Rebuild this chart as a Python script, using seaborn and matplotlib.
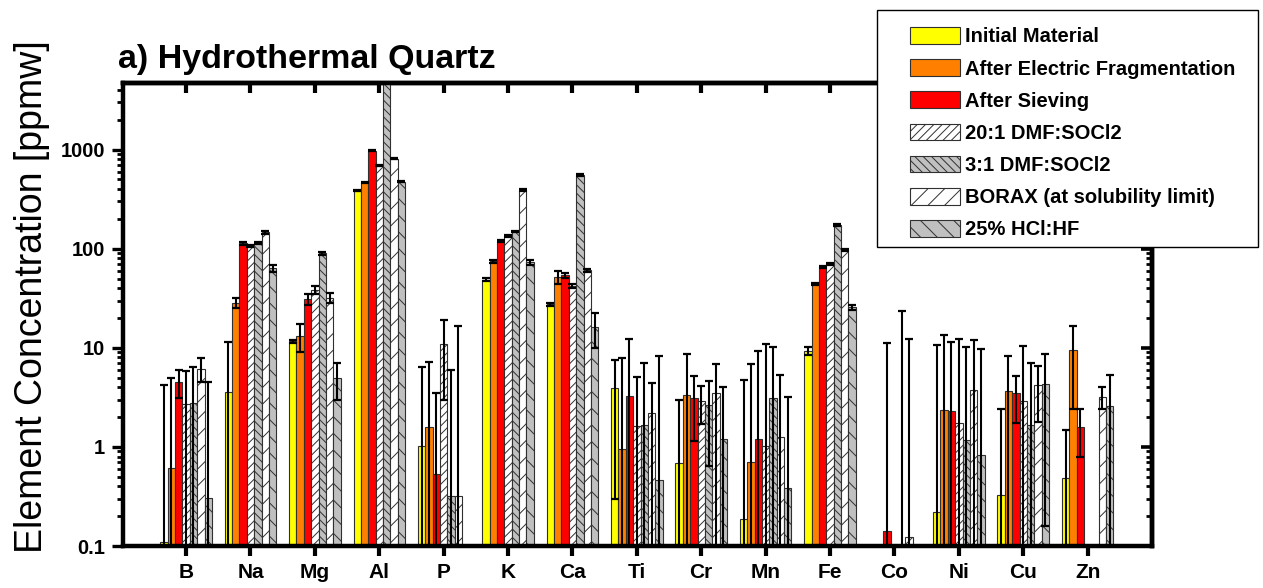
import numpy as np
import pandas as pd
import matplotlib
matplotlib.use("Agg")
import matplotlib.pyplot as plt
import seaborn as sns
from matplotlib.patches import Patch, Rectangle
from matplotlib.ticker import FixedLocator, FuncFormatter, LogLocator, NullFormatter

sns.set_theme(style="ticks")
plt.rcParams["font.family"] = ["Liberation Sans", "DejaVu Sans"]
plt.rcParams["font.weight"] = "bold"
plt.rcParams["hatch.linewidth"] = 0.7
plt.rcParams["axes.edgecolor"] = "black"
plt.rcParams["text.color"] = "black"
plt.rcParams["axes.labelcolor"] = "black"
plt.rcParams["xtick.color"] = "black"
plt.rcParams["ytick.color"] = "black"
plt.rcParams["xtick.labelcolor"] = "black"
plt.rcParams["ytick.labelcolor"] = "black"

nan = np.nan

elements = ["B", "Na", "Mg", "Al", "P", "K", "Ca", "Ti", "Cr", "Mn", "Fe", "Co", "Ni", "Cu", "Zn"]

series_names = ["Initial Material", "After Electric Fragmentation", "After Sieving",
                "20:1 DMF:SOCl2", "3:1 DMF:SOCl2", "BORAX (at solubility limit)", "25% HCl:HF"]

initial = [0.11, 3.6, 11.6, 386, 1.03, 48.7, 27.4, 3.9, 0.68, 0.187, 9.3, nan, 0.222, 0.327, 0.49]
initial_err = [4.1, 7.8, 0.5, 4, 5.4, 2, 1, 3.6, 2.3, 4.5, 0.8, nan, 10.4, 2.1, 0.98]

after_ef = [0.61, 28.5, 13.2, 469, 1.57, 74.4, 51.7, 0.95, 3.32, 0.707, 44.4, nan, 2.38, 3.65, 9.44]
after_ef_err = [4.35, 3.5, 4.2, 6, 5.7, 2, 8, 6.9, 5.3, 6.2, 1, nan, 11, 4.6, 7]

after_sieving = [4.52, 114, 31.3, 977, 0.532, 119, 53.7, 3.25, 3.15, 1.19, 65.2, 0.143, 2.29, 3.46, 1.59]
after_sieving_err = [1.4, 4, 4, 20, 3.0, 3, 3, 9.0, 2.0, 8.1, 2, 11, 9.1, 1.7, 0.8]

dmf_20 = [2.70, 106, 38.6, 690, 11.0, 133, 41.9, 1.62, 2.9, 1.03, 70.5, nan, 1.75, 2.91, nan]
dmf_20_err = [3.2, 2, 3.3, 8, 8, 3, 2, 3.5, 1.2, 10, 2, nan, 10.4, 7.4, nan]

dmf_3 = [2.78, 115, 90.2, 7000, 0.319, 149, 556, 1.66, 2.64, 3.12, 174, 0.102, 1.17, 1.68, nan]
dmf_3_err = [3.6, 3, 3, 0, 5.6, 3, 10, 5.4, 2.0, 7, 4, 23.4, 9, 5.3, nan]

borax = [6.17, 147, 32, 806, 0.319, 393, 60.4, 2.22, 3.46, 1.26, 97.6, 0.122, 3.79, 4.19, 3.19]
borax_err = [1.7, 5, 3.9, 10, 16.3, 8, 2, 2.2, 3.4, 4.1, 2, 12.2, 8.3, 2.4, 0.8]

hcl_hf = [0.302, 63.7, 4.96, 476, nan, 73.2, 16.2, 0.462, 1.20, 0.381, 25.8, nan, 0.826, 4.36, 2.57]
hcl_hf_err = [4.2, 5, 2, 10, nan, 4, 6.2, 7.9, 2.8, 2.8, 1.5, nan, 9, 4.2, 2.8]

values = [initial, after_ef, after_sieving, dmf_20, dmf_3, borax, hcl_hf]
errors = [initial_err, after_ef_err, after_sieving_err, dmf_20_err, dmf_3_err, borax_err, hcl_hf_err]

colors = ["#FFFF00", "#FF8000", "#FF0000", "#FFFFFF", "#C0C0C0", "#FFFFFF", "#C0C0C0"]
hatches = ["", "", "", "////", "\\\\\\\\", "//", "\\\\"]

rows = []
for name, vals in zip(series_names, values):
    for el, v in zip(elements, vals):
        rows.append({"element": el, "series": name, "value": v})
df = pd.DataFrame(rows)

W, H = 1263, 588
fig = plt.figure(figsize=(W / 100, H / 100), dpi=100)
ax = fig.add_axes([123 / W, 42 / H, (1152 - 123) / W, (546 - 83) / H])

sns.barplot(data=df, x="element", y="value", hue="series", order=elements,
            hue_order=series_names, palette=colors, saturation=1, width=0.8,
            edgecolor="#303030", linewidth=0.8, errorbar=None, legend=False, ax=ax)

for j, cont in enumerate(ax.containers):
    for p in cont:
        p.set_hatch(hatches[j])

ax.set_yscale("log")
ax.set_ylim(0.1, 4700)
ax.set_xlim(-0.98, 15.0)

n = len(series_names)
w = 0.8 / n
xpos = np.arange(len(elements))
for j in range(n):
    x = xpos - 0.4 + w * (j + 0.5)
    ax.errorbar(x, values[j], yerr=errors[j], fmt="none", ecolor="black",
                elinewidth=1.5, capsize=3, capthick=1.6, zorder=5)

ax.yaxis.set_major_locator(FixedLocator([0.1, 1, 10, 100, 1000]))
ax.yaxis.set_major_formatter(FuncFormatter(lambda v, p: f"{v:g}"))
ax.yaxis.set_minor_locator(LogLocator(base=10, subs=np.arange(2, 10)))
ax.yaxis.set_minor_formatter(NullFormatter())

ax.tick_params(axis="x", which="major", bottom=True, top=False, direction="out",
               length=7, width=3.0, labelsize=15, pad=5)
ax.tick_params(axis="y", which="major", left=True, right=False, direction="out",
               length=8, width=2.4, labelsize=14.5, pad=5)
ax.tick_params(axis="y", which="minor", left=True, right=False, direction="out",
               length=4, width=2.0)
for s in ax.spines.values():
    s.set_linewidth(3.2)
    s.set_color("black")

secx = ax.secondary_xaxis("top")
secx.set_xticks(xpos)
secx.set_xticklabels([])
secx.tick_params(direction="in", length=7, width=3.0)
secx.spines["top"].set_linewidth(3.2)

secy = ax.secondary_yaxis("right")
secy.tick_params(which="major", direction="in", length=8, width=2.6, labelright=False)
secy.tick_params(which="minor", direction="in", length=4.5, width=2.0, labelright=False)
secy.yaxis.set_major_formatter(NullFormatter())
secy.yaxis.set_minor_formatter(NullFormatter())
secy.spines["right"].set_linewidth(3.2)

ax.set_xlabel("")
ax.set_ylabel("Element Concentration [ppmw]", fontsize=27, fontweight="normal")
ax.yaxis.set_label_coords((50 - 123) / (1152 - 123), (546 - 297) / (546 - 83))

fig.text(118 / W, 1 - 68 / H, "a) Hydrothermal Quartz", fontsize=24.5,
         fontweight="bold", ha="left", va="baseline")

# legend frame box
fig.patches.append(Rectangle((877 / W, 1 - 247 / H), (1258 - 877) / W, (247 - 10) / H,
                             transform=fig.transFigure, facecolor="white",
                             edgecolor="black", linewidth=1.0, zorder=10))

handles = [Patch(facecolor=c, edgecolor="#303030", linewidth=0.8, hatch=h)
           for c, h in zip(colors, hatches)]
leg = fig.legend(handles, series_names, loc="upper left",
                 bbox_to_anchor=(910 / W, 1 - 27 / H), frameon=False,
                 prop={"size": 14.5, "weight": "bold"}, handlelength=2.5,
                 handleheight=0.9, labelspacing=0.64, handletextpad=0.25,
                 borderpad=0, borderaxespad=0)
leg.set_zorder(11)

fig.savefig("out.png", dpi=100)
